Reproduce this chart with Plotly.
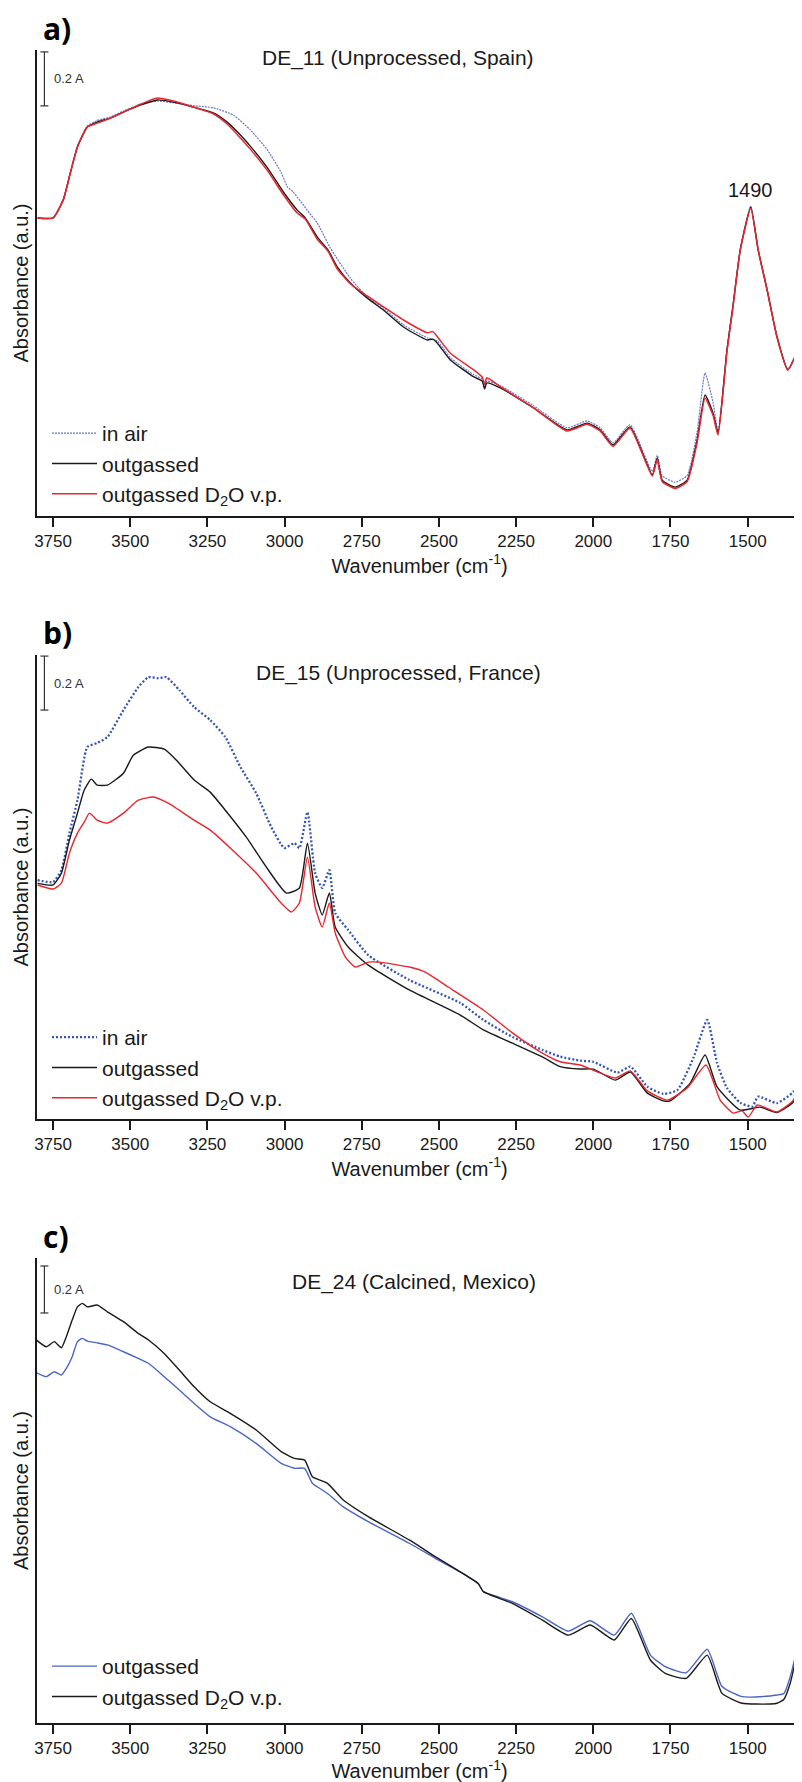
import plotly.graph_objects as go

# ---------------- data (wavenumber cm-1, absorbance) ----------------
tick_vals = [3750, 3500, 3250, 3000, 2750, 2500, 2250, 2000, 1750, 1500]

# Panel a) DE_11
wn_a = [3800, 3750, 3717, 3694, 3671, 3639, 3607, 3564, 3522, 3467, 3412, 3360, 3296, 3231, 3186,
        3143, 3101, 3056, 3004, 2959, 2933, 2894, 2859, 2829, 2787, 2732, 2680, 2615, 2538, 2520,
        2505, 2463, 2387, 2360, 2352, 2345, 2300, 2193, 2085, 2020, 1978, 1936, 1881, 1809, 1793,
        1777, 1735, 1696, 1664, 1638, 1612, 1596, 1567, 1548, 1524, 1490, 1466, 1437, 1405, 1370, 1324]
a_outgassed = [1.104, 1.104, 1.170, 1.270, 1.367, 1.441, 1.459, 1.474, 1.496, 1.522, 1.541, 1.533, 1.515,
               1.493, 1.459, 1.411, 1.356, 1.290, 1.200, 1.133, 1.104, 1.033, 0.985, 0.922, 0.863, 0.807,
               0.763, 0.700, 0.652, 0.655, 0.640, 0.578, 0.515, 0.500, 0.470, 0.493, 0.474, 0.400, 0.319,
               0.344, 0.319, 0.263, 0.330, 0.152, 0.215, 0.133, 0.107, 0.133, 0.281, 0.448, 0.381, 0.307,
               0.615, 0.774, 0.985, 1.144, 0.985, 0.837, 0.663, 0.541, 0.652]
a_d2o = [1.104, 1.104, 1.170, 1.270, 1.367, 1.441, 1.455, 1.474, 1.496, 1.525, 1.548, 1.537, 1.515, 1.490,
         1.452, 1.400, 1.345, 1.280, 1.190, 1.122, 1.100, 1.025, 0.980, 0.915, 0.860, 0.815, 0.775, 0.726,
         0.679, 0.683, 0.664, 0.603, 0.541, 0.515, 0.488, 0.512, 0.478, 0.400, 0.315, 0.340, 0.315, 0.258,
         0.325, 0.148, 0.210, 0.128, 0.102, 0.128, 0.270, 0.437, 0.372, 0.300, 0.610, 0.770, 0.985, 1.140,
         0.985, 0.837, 0.663, 0.541, 0.652]
wn_a_air = [3800, 3750, 3717, 3694, 3671, 3639, 3607, 3564, 3522, 3467, 3412, 3360, 3296, 3231, 3166,
            3111, 3056, 3010, 2991, 2972, 2927, 2894, 2852, 2787, 2732, 2680, 2615, 2538, 2505, 2463,
            2387, 2360, 2352, 2345, 2300, 2193, 2085, 2020, 1978, 1936, 1881, 1809, 1793, 1777, 1735,
            1696, 1664, 1638, 1612, 1596, 1567, 1548, 1524, 1490, 1466, 1437, 1405, 1370, 1324]
a_air = [1.104, 1.104, 1.175, 1.275, 1.370, 1.445, 1.465, 1.478, 1.500, 1.525, 1.537, 1.530, 1.520, 1.512,
         1.485, 1.430, 1.356, 1.270, 1.219, 1.200, 1.133, 1.085, 0.993, 0.881, 0.811, 0.770, 0.708, 0.660,
         0.648, 0.586, 0.523, 0.508, 0.478, 0.500, 0.482, 0.408, 0.327, 0.352, 0.327, 0.271, 0.338, 0.165,
         0.225, 0.150, 0.125, 0.150, 0.310, 0.530, 0.420, 0.315, 0.620, 0.780, 0.990, 1.148, 0.990, 0.840,
         0.668, 0.545, 0.655]

# Panel b) DE_15
wn_b_out = [3800, 3750, 3723, 3697, 3671, 3649, 3626, 3607, 3574, 3522, 3490, 3441, 3390, 3351, 3293,
            3241, 3192, 3124, 3059, 2994, 2952, 2926, 2901, 2878, 2855, 2836, 2794, 2729, 2596, 2431,
            2356, 2262, 2165, 2107, 2042, 2000, 1929, 1880, 1825, 1773, 1751, 1686, 1638, 1599, 1524,
            1460, 1405, 1352, 1324]
b_outgassed = [0.873, 0.867, 0.911, 1.033, 1.133, 1.219, 1.259, 1.237, 1.237, 1.281, 1.348, 1.378, 1.370,
               1.330, 1.256, 1.211, 1.144, 1.044, 0.933, 0.837, 0.856, 1.022, 0.837, 0.756, 0.837, 0.711,
               0.637, 0.570, 0.478, 0.385, 0.330, 0.281, 0.230, 0.194, 0.185, 0.185, 0.144, 0.174, 0.096,
               0.067, 0.067, 0.133, 0.237, 0.119, 0.033, 0.044, 0.024, 0.064, 0.170]
wn_b_d2o = [3800, 3750, 3723, 3697, 3671, 3649, 3632, 3607, 3574, 3522, 3474, 3425, 3377, 3293, 3241,
            3176, 3092, 3011, 2978, 2952, 2926, 2901, 2878, 2855, 2836, 2803, 2771, 2729, 2693, 2596,
            2544, 2470, 2356, 2262, 2165, 2107, 2042, 1929, 1880, 1825, 1760, 1696, 1635, 1589, 1547,
            1518, 1498, 1469, 1405, 1352, 1324]
b_d2o = [0.867, 0.852, 0.874, 0.985, 1.059, 1.100, 1.133, 1.107, 1.096, 1.133, 1.181, 1.193, 1.170, 1.107,
         1.070, 1.004, 0.911, 0.800, 0.767, 0.800, 0.970, 0.785, 0.711, 0.800, 0.689, 0.600, 0.563, 0.581,
         0.581, 0.563, 0.544, 0.489, 0.404, 0.319, 0.244, 0.212, 0.200, 0.152, 0.178, 0.104, 0.070, 0.115,
         0.200, 0.070, 0.022, 0.030, 0.007, 0.052, 0.026, 0.070, 0.170]
wn_b_air = [3800, 3750, 3723, 3697, 3671, 3639, 3607, 3574, 3522, 3474, 3441, 3409, 3383, 3341, 3293,
            3241, 3192, 3143, 3092, 3043, 3001, 2968, 2952, 2926, 2901, 2878, 2855, 2836, 2794, 2729,
            2596, 2431, 2356, 2262, 2165, 2107, 2042, 2000, 1922, 1880, 1825, 1773, 1728, 1676, 1631,
            1599, 1567, 1524, 1485, 1466, 1405, 1352, 1324]
b_air = [0.885, 0.878, 0.922, 1.059, 1.181, 1.378, 1.393, 1.415, 1.515, 1.600, 1.637, 1.633, 1.637, 1.589,
         1.526, 1.478, 1.415, 1.304, 1.207, 1.081, 1.004, 1.022, 1.004, 1.137, 0.911, 0.856, 0.922, 0.763,
         0.700, 0.607, 0.515, 0.430, 0.367, 0.304, 0.256, 0.231, 0.216, 0.212, 0.172, 0.194, 0.120, 0.093,
         0.107, 0.226, 0.367, 0.207, 0.115, 0.060, 0.046, 0.083, 0.059, 0.101, 0.181]

# Panel c) DE_24
wn_c = [3804, 3772, 3746, 3723, 3707, 3688, 3671, 3655, 3639, 3607, 3574, 3522, 3474, 3441, 3390, 3341,
        3293, 3241, 3176, 3092, 3011, 2968, 2935, 2910, 2861, 2810, 2729, 2596, 2512, 2415, 2373, 2356,
        2262, 2165, 2081, 2010, 1932, 1877, 1815, 1767, 1699, 1631, 1583, 1518, 1427, 1405, 1383, 1362, 1324]
c_outgassed = [1.491, 1.474, 1.495, 1.481, 1.509, 1.559, 1.623, 1.637, 1.625, 1.618, 1.609, 1.580, 1.552,
               1.531, 1.474, 1.417, 1.360, 1.303, 1.261, 1.190, 1.105, 1.084, 1.084, 1.020, 0.977, 0.920,
               0.857, 0.765, 0.701, 0.630, 0.594, 0.559, 0.516, 0.452, 0.391, 0.435, 0.374, 0.467, 0.289,
               0.240, 0.214, 0.314, 0.155, 0.112, 0.115, 0.119, 0.125, 0.197, 0.410]
c_d2o = [1.630, 1.601, 1.623, 1.597, 1.644, 1.715, 1.771, 1.786, 1.771, 1.779, 1.750, 1.708, 1.658, 1.630,
         1.573, 1.502, 1.431, 1.367, 1.318, 1.247, 1.155, 1.126, 1.119, 1.048, 1.020, 0.949, 0.878, 0.779,
         0.708, 0.630, 0.594, 0.559, 0.509, 0.438, 0.374, 0.417, 0.353, 0.445, 0.268, 0.211, 0.190, 0.289,
         0.126, 0.084, 0.081, 0.084, 0.100, 0.170, 0.396]

titles = ["DE_11 (Unprocessed, Spain)", "DE_15 (Unprocessed, France)", "DE_24 (Calcined, Mexico)"]
panel_labels = ["a)", "b)", "c)"]
y_ranges = [1.726, 1.719, 1.979]
scale_bar_top = [1.719, 1.715, 1.945]
scale_bar_size = 0.2

# ---------------- layout helpers (page pixel -> paper fraction) ----------------
OFF = 8                      # page body margin of the html page
W, H = 802 - OFF, 1782 - OFF
L = 37 - OFF
PW = W - L
panels_px = [(50, 516), (655, 1119), (1258, 1723)]  # top, bottom of plot areas (page px)
legend_tops = [413, 1017, 1646]
title_pos = [(398, 58), (398, 673), (414, 1282)]


def py(p):
    return 1 - (p - OFF) / H


def px(p):
    return (p - OFF - L) / PW


FONT = "Liberation Sans, Arial, sans-serif"
BLACK = "#1a1a1a"
RED = "#e8262d"

fig = go.Figure()


def add(x, y, name, color, width, dash, k):
    sfx = "" if k == 1 else str(k)
    fig.add_trace(go.Scatter(
        x=x, y=y, name=name, mode="lines",
        line=dict(color=color, width=width, dash=dash, shape="spline", smoothing=0.5),
        xaxis="x" + sfx, yaxis="y" + sfx, legend="legend" + sfx))


D2O = "outgassed D<sub>2</sub>O v.p."
add(wn_a_air, a_air, "in air", "#6677c8", 1.2, "2px,1px", 1)
add(wn_a, a_outgassed, "outgassed", BLACK, 1.4, "solid", 1)
add(wn_a, a_d2o, D2O, RED, 1.5, "solid", 1)

add(wn_b_air, b_air, "in air", "#3355b5", 2.3, "2px,2px", 2)
add(wn_b_out, b_outgassed, "outgassed", BLACK, 1.4, "solid", 2)
add(wn_b_d2o, b_d2o, D2O, RED, 1.4, "solid", 2)

add(wn_c, c_outgassed, "outgassed", "#4a66c2", 1.4, "solid", 3)
add(wn_c, c_d2o, D2O, BLACK, 1.4, "solid", 3)

layout = dict(
    width=W, height=H,
    margin=dict(l=L, r=0, t=0, b=0),
    paper_bgcolor="white", plot_bgcolor="white",
    font=dict(family=FONT, color=BLACK),
    showlegend=True,
)

annotations = []
shapes = []
for i, (top, bot) in enumerate(panels_px):
    k = i + 1
    sfx = "" if k == 1 else str(k)
    layout["xaxis" + sfx] = dict(
        domain=[0, 1], anchor="y" + sfx, range=[3802, 1324],
        tickvals=tick_vals, ticks="outside", ticklen=9, tickwidth=1.5, tickcolor=BLACK,
        showline=True, linecolor=BLACK, linewidth=1.5, showgrid=False, zeroline=False,
        tickfont=dict(size=17, family=FONT, color=BLACK),
        title=dict(text="Wavenumber (cm<sup>-1</sup>)", font=dict(size=20, family=FONT, color=BLACK), standoff=4),
        automargin=False,
    )
    layout["yaxis" + sfx] = dict(
        domain=[py(bot), py(top)], anchor="x" + sfx, range=[0, y_ranges[i]],
        showticklabels=False, ticks="", showline=True, linecolor=BLACK, linewidth=1.5,
        showgrid=False, zeroline=False,
        title=dict(text="Absorbance (a.u.)", font=dict(size=20, family=FONT, color=BLACK), standoff=1),
        automargin=False,
    )
    layout["legend" + sfx] = dict(
        x=px(47), xanchor="left", y=py(legend_tops[i]), yanchor="top",
        bgcolor="rgba(0,0,0,0)", borderwidth=0, tracegroupgap=0, itemwidth=45,
        font=dict(size=21, family=FONT, color=BLACK),
    )
    # panel letter
    annotations.append(dict(
        text="<b>%s</b>" % panel_labels[i], xref="paper", yref="paper",
        x=px(41), y=py(top - 22), xanchor="left", yanchor="middle", showarrow=False,
        font=dict(size=30, family="Open Sans, DejaVu Sans, sans-serif", color="black")))
    # title
    cx, cy = title_pos[i]
    annotations.append(dict(
        text=titles[i], xref="paper", yref="paper", x=px(cx), y=py(cy),
        xanchor="center", yanchor="middle", showarrow=False,
        font=dict(size=21, family=FONT, color=BLACK)))
    # 0.2 A scale bar
    t = scale_bar_top[i]
    b = t - scale_bar_size
    xr, yr = "x" + sfx, "y" + sfx
    for (x0, y0, x1, y1) in [(3778, b, 3778, t), (3791, t, 3765, t), (3791, b, 3765, b)]:
        shapes.append(dict(type="line", xref=xr, yref=yr, x0=x0, y0=y0, x1=x1, y1=y1,
                           line=dict(color="#333333", width=1.2)))
    annotations.append(dict(
        text="0.2 A", xref=xr, yref=yr, x=3752, y=(t + b) / 2, xanchor="left", yanchor="middle",
        showarrow=False, font=dict(size=13, family=FONT, color="#333333")))

annotations.append(dict(text="1490", xref="x", yref="y", x=1490, y=1.207, xanchor="center",
                        yanchor="middle", showarrow=False, font=dict(size=20, family=FONT, color=BLACK)))

layout["annotations"] = annotations
layout["shapes"] = shapes
fig.update_layout(**layout)

fig.write_html("out.html")
